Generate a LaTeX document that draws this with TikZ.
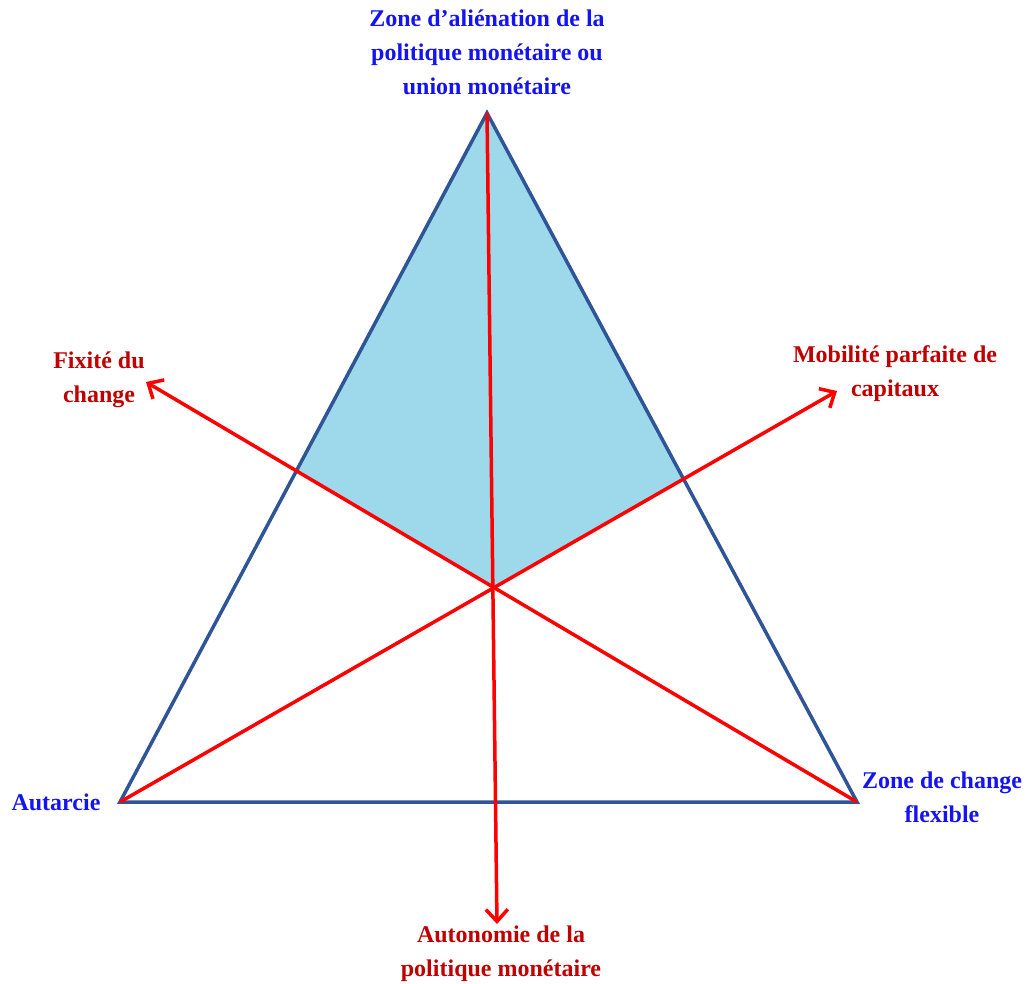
\documentclass[tikz,border=0pt]{standalone}
\usepackage{fontspec}
\setmainfont{Liberation Serif}
\usetikzlibrary{arrows.meta}
\definecolor{edgeblue}{HTML}{2F5597}
\definecolor{zonefill}{HTML}{9DD9EA}
\definecolor{labred}{HTML}{C00000}
\definecolor{labblue}{HTML}{1414F0}
\begin{document}
\begin{tikzpicture}[x=1pt,y=-1pt,
		axis/.style={red,line width=3.5pt,-{Straight Barb[length=12pt,width=22pt,line width=3.5pt]}},
		redlab/.style={text=labred,font=\bfseries\fontsize{24}{34}\selectfont,align=center},
		bluelab/.style={text=labblue,font=\bfseries\fontsize{24}{34}\selectfont,align=center}]
	\useasboundingbox (0,0) rectangle (1027,984);
	\coordinate (apex) at (487,113);
	\coordinate (autarcie) at (120,802);
	\coordinate (flex) at (857,802);
	\coordinate (centre) at (493,588);
	\coordinate (gauche) at (298,470);
	\coordinate (droite) at (683,480);
	\coordinate (bas) at (497,924);
	\coordinate (nordouest) at (146,382);
	\coordinate (nordest) at (837,391);
	% zone bleue
	\fill[zonefill] (apex) -- (gauche) -- (centre) -- (droite) -- cycle;
	\draw[edgeblue,line width=3.5pt,line join=miter] (apex) -- (autarcie) -- (flex) -- cycle;
	% axes
	\draw[axis] (apex) -- (bas);
	\draw[axis] (flex) -- (nordouest);
	\draw[axis] (autarcie) -- (nordest);
	% textes
	\node[bluelab] (zone) at (487,52) {Zone d'aliénation de la\\politique monétaire ou\\union monétaire};
	\node[redlab] (fixite) at (99,380) {Fixité du\\change};
	\node[redlab] (mobilite) at (895,374) {Mobilité parfaite de\\capitaux};
	\node[bluelab] (autarc) at (56,802) {Autarcie};
	\node[bluelab] (zonefl) at (942,797) {Zone de change\\flexible};
	\node[redlab] (autonomie) at (501,954) {Autonomie de la\\politique monétaire};
\end{tikzpicture}
\end{document}
